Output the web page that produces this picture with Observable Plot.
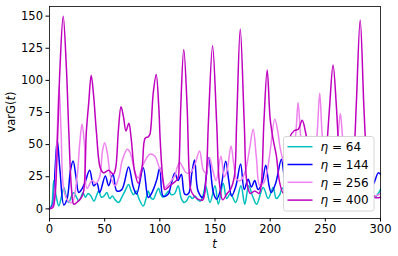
<!DOCTYPE html>
<html>
<head>
<meta charset="utf-8">
<script src="https://cdn.jsdelivr.net/npm/d3@7"></script>
<script src="https://cdn.jsdelivr.net/npm/@observablehq/plot@0.6"></script>
<style>
  html, body { margin: 0; padding: 0; background: white; }
  #chart { position: relative; width: 398px; height: 256px; }
</style>
</head>
<body>
<div id="chart"></div>
<script>
// ---- data ----
const etaLabels = ["64", "144", "256", "400"];
const etaColors = ["#00bfbf", "#0000ff", "#ee82ee", "#bf00bf"];
const xTicks = [0, 50, 100, 150, 200, 250, 300];
const yTicks = [0, 25, 50, 75, 100, 125, 150];

const t64 = [0, 2, 3.9, 6, 8.4, 11, 13, 15, 17.4, 20, 22, 24.5, 26.5, 28.5, 30.4, 32.5, 35, 37.5, 40.3, 42.5, 44.6, 47, 49.5, 52, 54.5, 57, 59.5, 62.6, 66, 68.5, 71.7, 74, 76.2, 78.5, 81, 85, 87.5, 89.5, 91.5, 94, 96.5, 98.8, 101, 103, 106, 108, 110.5, 113.5, 116.6, 119.5, 122, 124, 127, 129.5, 132, 134.5, 136.5, 139, 141.5, 145.5, 150, 153, 157.5, 160.5, 164, 168.7, 173.5, 177, 180.5, 184, 187.7, 193.7, 198.2, 202.7, 205.5, 208.7, 211, 220, 230, 240, 250, 260, 270, 280, 290, 295, 300];
const v64 = [0, 3, 22, 10, 2.3, 10, 16.6, 10, 4.9, 10, 12.7, 9, 6.2, 9, 12.7, 9, 12, 10, 6, 10, 14, 9, 10, 12.7, 8, 10, 7, 4.9, 10, 14, 19, 14, 11, 14, 8, 2.3, 8, 14, 9, 7.5, 12, 16, 11, 9, 12, 14, 11, 12, 18, 8, 5, 6, 10, 8, 10, 7, 6, 10, 18, 5, 18, 3.6, 20, 8, 12, 5, 18, 3.6, 18, 10, 3.6, 16.6, 8, 16.6, 8, 11, 16, 8, 12, 8, 12, 8, 12, 8, 8, 9, 15];

const t144 = [0, 3, 5, 7, 9.5, 13, 16, 19, 21.4, 24, 26.5, 29, 32, 36.4, 40, 43, 45.5, 50.6, 53.6, 57.5, 61, 65.5, 71.7, 75.9, 79, 85, 89.5, 92.5, 97, 100, 103, 107.5, 110.5, 113.6, 116.5, 119.5, 122.6, 126, 129, 131.5, 134.6, 139, 142, 144.5, 148.5, 151.5, 155, 159.7, 162.5, 165, 169, 173.2, 176.5, 180, 183, 186, 189, 192.5, 196, 199, 201, 205, 210.2, 213, 220, 230, 240, 250, 260, 270, 280, 290, 294, 298, 300];
const v144 = [0, 3, 30, 53.4, 30, 3, 8, 30, 37.3, 25, 12.7, 15, 20, 30, 18, 20, 12.7, 25.6, 18, 27, 14, 15, 32.6, 17, 11.6, 32, 8.8, 12, 22, 32, 10, 11.4, 20, 28, 22, 27, 11.4, 12, 28, 38, 14, 8.8, 25, 40, 12.7, 7.5, 15, 37, 22, 10, 18, 35, 15, 23, 17, 22, 15, 20, 34, 18, 12.7, 20, 38.6, 25, 10, 20, 15, 25, 12, 20, 15, 15, 20, 28, 27];

const t256 = [0, 3, 5, 7, 8.7, 10.5, 13, 17, 20.5, 25, 27.3, 29.5, 31.7, 34, 38.6, 42, 45.5, 48, 50, 52.5, 55.5, 59.6, 63, 66, 70.5, 73, 77.7, 80.4, 83, 86.5, 91, 95.5, 99, 101.5, 104.5, 109, 113.6, 116, 118, 121, 124, 128.7, 132, 136, 139.5, 142, 145, 148, 151, 155.4, 158.5, 161, 164.5, 167, 169.6, 173, 177, 181, 184.6, 187.5, 190.6, 194, 197, 200, 204.2, 207, 208.7, 211, 215, 219, 222.9, 225.3, 227.7, 231, 236, 240, 242.3, 244.9, 247.3, 250, 254, 258, 261.4, 263.6, 265.6, 269, 273, 278, 283, 290, 295, 300];
const v256 = [0, 2, 15, 60, 95, 60, 15, 6, 5, 25, 50, 66, 50, 16, 22, 20, 25, 45, 51.5, 43, 25, 18, 25, 38, 46.4, 44, 28, 24, 30, 37.3, 42.5, 41, 33.4, 28, 16.6, 20.4, 26, 33, 36, 32, 28, 29, 35, 45, 30, 28, 40, 30, 22, 41, 25, 30, 49, 35, 23, 22, 28, 45, 62, 40, 17.9, 20, 28, 45, 69.7, 60, 49, 40, 30, 40, 56, 82.6, 56, 35, 25, 45, 56, 89.9, 56, 40, 25, 35, 56, 74.3, 56, 30, 20, 40, 30, 15, 10, 12];

const t400 = [0, 3, 5, 7.5, 9.5, 12.4, 15.3, 17.5, 20, 22, 26, 29, 31, 33.4, 35.5, 37.8, 40, 42.5, 46, 49, 53.5, 58, 60, 62.5, 64.8, 67, 69.3, 71.9, 74, 77, 80.5, 84, 86.7, 89.5, 91, 94, 96.7, 99, 100.3, 102, 103.3, 104.5, 109, 113.6, 116.5, 117.5, 119, 121.7, 124.7, 126.5, 128, 131, 136, 139, 142, 144, 147.8, 151.5, 154, 157, 161, 164, 167.5, 169.6, 172.9, 176.5, 179, 182, 186, 190, 192, 194.3, 197.3, 200, 202.7, 205.5, 208.7, 212, 215, 218, 222, 225.5, 229, 232, 234, 238, 244, 249, 251.5, 253.9, 257, 260, 262, 266, 271, 276, 278, 281.6, 284.9, 287, 290, 295, 300];
const v400 = [0, 1, 10, 60, 110, 150, 110, 60, 15, 3.6, 6, 9, 14, 60, 82, 104, 88, 60, 32, 28, 30, 27, 32, 62, 79.5, 72, 60.6, 66.6, 55, 30, 20, 33, 55, 56, 58, 90, 104.6, 80, 54, 30, 20, 15, 18, 21, 24, 35, 80, 124, 80, 30, 15, 10, 7, 7, 25, 67, 127, 67, 20, 7, 12, 15, 25, 67, 140, 67, 20, 12, 14, 12, 20, 67, 108, 70, 54, 42, 20, 12, 30, 56, 61, 62, 69, 60, 50, 25, 10, 18, 50, 80, 112, 80, 50, 15, 10, 45, 80, 147, 80, 45, 20, 9, 9];

// ---- table for the library ----
const seriesT = [t64, t144, t256, t400];
const seriesV = [v64, v144, v256, v400];
const rows = etaLabels.flatMap((eta, i) =>
  seriesT[i].map((t, j) => ({eta, t, v: seriesV[i][j]})));

const font = "DejaVu Sans, Liberation Sans, sans-serif";
const fs = 11.5;

const svg = Plot.plot({
  width: 398,
  height: 256,
  marginLeft: 49,
  marginRight: 18,
  marginTop: 6,
  marginBottom: 38,
  style: {fontFamily: font, fontSize: fs + "px", background: "white", color: "black"},
  x: {domain: [0, 300]},
  y: {domain: [-7.5, 157.5]},
  color: {domain: etaLabels, range: etaColors},
  marks: [
    Plot.line(rows, {x: "t", y: "v", z: "eta", stroke: "eta", strokeWidth: 1.5, curve: "catmull-rom"}),
    Plot.axisX({ticks: xTicks, tickSize: 3.5, tickPadding: 3, label: null, tickFormat: d => String(d)}),
    Plot.axisY({ticks: yTicks, tickSize: 3.5, tickPadding: 3, label: null, tickFormat: d => String(d)}),
    Plot.frame({stroke: "black", strokeWidth: 0.8})
  ]
});
document.getElementById("chart").appendChild(svg);

// ---- labels and legend (layout decorations) ----
const s = d3.select(svg);
const ns = s.append("g").attr("font-family", font).attr("font-size", fs).attr("fill", "black");

// y label
const yl = ns.append("text")
  .attr("transform", "translate(15,112) rotate(-90)")
  .attr("text-anchor", "middle");
yl.append("tspan").text("varG(");
yl.append("tspan").attr("font-style", "italic").text("t");
yl.append("tspan").text(")");

// x label
ns.append("text")
  .attr("x", 214.5).attr("y", 248)
  .attr("text-anchor", "middle")
  .attr("font-style", "italic")
  .text("t");

// legend
const lg = ns.append("g").attr("text-anchor", "start");
lg.append("rect")
  .attr("x", 283.5).attr("y", 136.5).attr("width", 90.5).attr("height", 74.5)
  .attr("rx", 2.5).attr("fill", "white").attr("fill-opacity", 1)
  .attr("stroke", "#cccccc").attr("stroke-width", 0.8);
etaLabels.forEach((eta, i) => {
  const y = 146.7 + i * 17.8;
  lg.append("line")
    .attr("x1", 287.5).attr("x2", 312.5).attr("y1", y).attr("y2", y)
    .attr("stroke", etaColors[i]).attr("stroke-width", 1.5);
  const tx = lg.append("text").attr("x", 320.5).attr("y", y + 4.2)
    .attr("font-size", 12).attr("text-anchor", "start");
  tx.append("tspan").attr("font-style", "italic").text("η");
  tx.append("tspan").text(" = " + eta);
});
</script>
</body>
</html>
